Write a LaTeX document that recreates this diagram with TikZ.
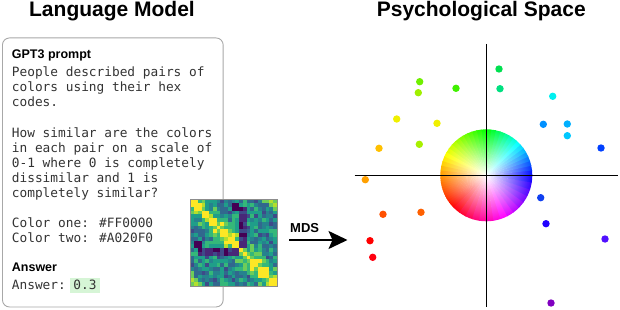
\documentclass[tikz,border=0pt]{standalone}
\usepackage{fontspec}
\setmainfont{Liberation Sans}
\newfontfamily\monofont{DejaVu Sans Mono}
\usetikzlibrary{arrows.meta,fadings}
\tikzfading[name=wfade, inner color=transparent!0, outer color=transparent!100]
\definecolor{vir0}{HTML}{440154}
\definecolor{vir1}{HTML}{482878}
\definecolor{vir2}{HTML}{3E4A89}
\definecolor{vir3}{HTML}{31688E}
\definecolor{vir4}{HTML}{26828E}
\definecolor{vir5}{HTML}{1F9E89}
\definecolor{vir6}{HTML}{35B779}
\definecolor{vir7}{HTML}{6DCD59}
\definecolor{vir8}{HTML}{B4DE2C}
\definecolor{vir9}{HTML}{FDE725}
\definecolor{boxgray}{HTML}{A8A8A8}
\definecolor{hmgray}{HTML}{8C8C8C}
\definecolor{hilite}{HTML}{D6F5D6}
\definecolor{monotext}{HTML}{333333}
\begin{document}
\begin{tikzpicture}[x=1pt,y=-1pt,
  title/.style={font=\fontsize{21}{23}\selectfont\bfseries, anchor=base, inner sep=0},
  mono/.style={font=\monofont\fontsize{12.8}{15}\selectfont, text=monotext, anchor=base west, inner sep=0},
  head/.style={font=\fontsize{12.5}{14}\selectfont\bfseries, anchor=base west, inner sep=0},
  cdot/.style={circle, minimum size=7.4, inner sep=0, fill=#1},
  axis/.style={draw=black, line width=1.1}]
\useasboundingbox (0,0) rectangle (620,310);

% titles
\node[title] (t1) at (112,16.9) {Language Model};
\node[title] (t2) at (481.3,16.9) {Psychological Space};

% prompt box
\node[draw=boxgray, rounded corners=7, line width=0.9, minimum width=220.7, minimum height=269, anchor=north west, inner sep=0] (box) at (2,37.5) {};
\node[head] (gpt) at (11.7,58.3) {GPT3 prompt};
\node[mono] (l1) at (11.7,76.7) {People described pairs of};
\node[mono] (l2) at (11.7,91.8) {colors using their hex};
\node[mono] (l3) at (11.7,106.9) {codes.};
\node[mono] (l4) at (11.7,137.1) {How similar are the colors};
\node[mono] (l5) at (11.7,152.2) {in each pair on a scale of};
\node[mono] (l6) at (11.7,167.3) {0-1 where 0 is completely};
\node[mono] (l7) at (11.7,182.4) {dissimilar and 1 is};
\node[mono] (l8) at (11.7,197.5) {completely similar?};
\node[mono] (l9) at (11.7,227.7) {Color one: \#FF0000};
\node[mono] (l10) at (11.7,242.8) {Color two: \#A020F0};
\node[head] (ans) at (11.7,271.7) {Answer};
\node[mono] (l11) at (11.7,289.3) {Answer:};
\node[mono, fill=hilite, inner xsep=3, inner ysep=0, text height=11, text depth=3.4] (val) at (70.2,289.3) {0.3};

% heatmap
\foreach \i in {0,...,22}{
  \foreach \j in {0,...,22}{
    \pgfmathsetmacro\nz{mod(abs(sin((\i+\j)*37.3+abs(\i-\j)*53.1+\i*\j*7.7))*91.7,1)}
    \pgfmathtruncatemacro\dd{min(abs(\i-\j),23-abs(\i-\j))}
    \pgfmathsetmacro\vv{max(9.6-1.1*\dd,3.9)+(\nz-0.5)*4.2}
    \pgfmathtruncatemacro\band{or(and(or(equal(\i,13),equal(\i,14)),and(greater(\j,1),less(\j,13))),and(or(equal(\j,13),equal(\j,14)),and(greater(\i,1),less(\i,13))))}
    \pgfmathtruncatemacro\spot{or(and(or(equal(\i,1),equal(\i,2)),or(equal(\j,11),equal(\j,12))),and(or(equal(\j,1),equal(\j,2)),or(equal(\i,11),equal(\i,12))))}
    \ifnum\band=1 \pgfmathsetmacro\vv{\nz*2.4}\fi
    \ifnum\spot=1 \pgfmathsetmacro\vv{0.2}\fi
    \ifnum\dd=0 \pgfmathsetmacro\vv{9}\fi
    \pgfmathtruncatemacro\lv{max(0,min(9,\vv+0.5))}
    \fill[vir\lv] (190.3+\j*3.76,199.3+\i*3.76) rectangle ++(3.82,3.82);
  }
}
\node[draw=hmgray, line width=1, minimum width=86.5, minimum height=86.5, inner sep=0, anchor=north west] (hm) at (190.3,199.3) {};

% MDS arrow
\node[font=\fontsize{13}{15}\selectfont\bfseries, anchor=base west, inner sep=0] (mds) at (290,232.3) {MDS};
\coordinate (as) at (289.3,240);
\coordinate (ae) at (347.5,240);
\draw[line width=2, -{Stealth[length=19pt,width=18pt,inset=4pt]}] (as) -- (ae);

% color wheel
\begin{scope}[shift={(486.3,175.3)}, yscale=-1]
  \foreach \sa/\sb/\ha/\hb in {0/90/240/120, 90/180/120/35, 180/225/35/0, 225/360/360/240}{
    \foreach \k in {0,...,14}{
      \pgfmathsetmacro\aa{\sa+(\sb-\sa)*\k/15}
      \pgfmathsetmacro\ae{\sa+(\sb-\sa)*(\k+1)/15+0.8}
      \pgfmathsetmacro\hh{\ha+(\hb-\ha)*(\k+0.5)/15}
      \definecolor{wc}{Hsb}{\hh,1,1}
      \fill[wc] (0,0) -- (\aa:46) arc[start angle=\aa, end angle=\ae, radius=46] -- cycle;
    }
  }
  \fill[white, path fading=wfade] (0,0) circle (46);
\end{scope}
\coordinate (vt) at (486.3,44);
\coordinate (vb) at (486.3,306.7);
\coordinate (hl) at (354.7,175.3);
\coordinate (hr) at (618.3,175.3);
\draw[axis] (vt) -- (vb);
\draw[axis] (hl) -- (hr);

% colour dots
\foreach \x/\y/\c [count=\n] in {
  499/69/00E050, 500/88.7/00E080, 419.7/81.7/70F000, 418.3/92.7/A0F000,
  456/88.3/40F000, 552.7/96.3/00F0F0, 396.7/119/F0F000, 437/123.3/F0F000,
  543.3/124.3/0090FF, 567.3/124/00B0FF, 567.3/135.7/00C8FF, 379/148.3/FFC000,
  419.3/144.3/A8F000, 601/148/0040FF, 365.3/179.7/FFA000, 540.7/197.7/1040F0,
  383/214.3/FF5000, 421/212.3/FF6000, 546/223.7/2000FF, 370/240.7/FF0000,
  372.7/257.3/FF0010, 605/239/5010FF, 551/303/8000C0}{
  \definecolor{dc}{HTML}{\c}
  \node[cdot=dc] (d\n) at (\x,\y) {};
}
\end{tikzpicture}
\end{document}
